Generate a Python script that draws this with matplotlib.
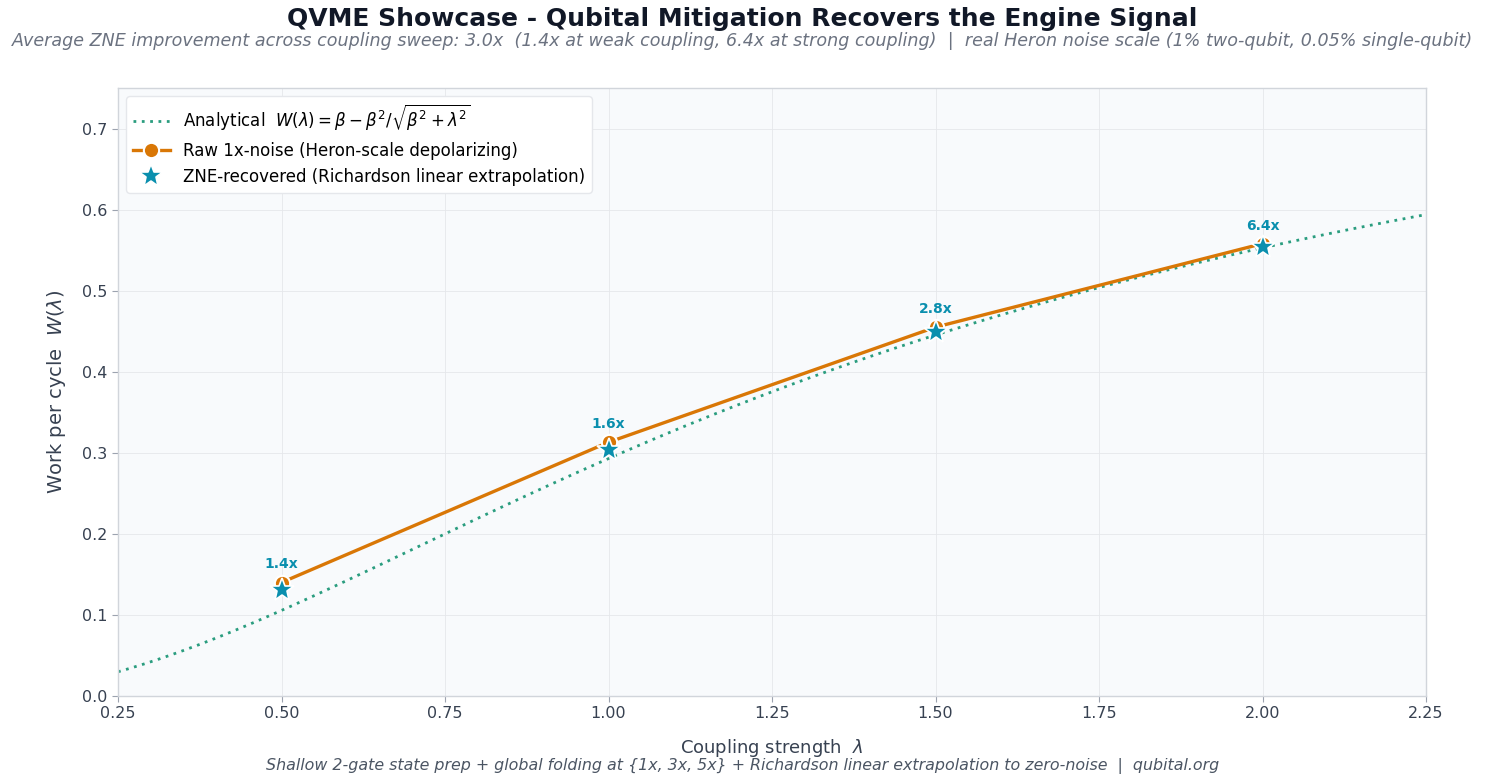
import numpy as np
import matplotlib
matplotlib.use("Agg")
import matplotlib.pyplot as plt

# ---- data ----
BETA = 1.0
lam_points = [0.5, 1.0, 1.5, 2.0]
raw_work = [0.140, 0.313, 0.455, 0.558]
zne_work = [0.131, 0.304, 0.449, 0.554]
improvement_labels = ["1.4x", "1.6x", "2.8x", "6.4x"]
x_ticks = [0.25, 0.50, 0.75, 1.00, 1.25, 1.50, 1.75, 2.00, 2.25]
y_ticks = [0.0, 0.1, 0.2, 0.3, 0.4, 0.5, 0.6, 0.7]

lam_curve = np.linspace(0.25, 2.25, 400)
w_curve = BETA - BETA**2 / np.sqrt(BETA**2 + lam_curve**2)

C_ANA = "#2a9d7f"
C_RAW = "#d97706"
C_ZNE = "#0a8fae"

fig = plt.figure(figsize=(14.85, 7.84), dpi=100)
ax = fig.add_axes([118/1485, 1 - 696/784, (1426-118)/1485, (696-88)/784])
ax.set_facecolor("#f8fafc")

ax.plot(lam_curve, w_curve, linestyle=(0, (1, 2)), color=C_ANA, lw=2.0,
        label=r"Analytical  $W(\lambda) = \beta - \beta^2/\sqrt{\beta^2 + \lambda^2}$", zorder=2)
ax.plot(lam_points, raw_work, "-o", color=C_RAW, lw=2.4, markersize=11,
        markeredgecolor="white", markeredgewidth=1.5,
        label="Raw 1x-noise (Heron-scale depolarizing)", zorder=3)
ax.plot(lam_points, zne_work, linestyle="none", marker="*", color=C_ZNE, markersize=18,
        markeredgecolor="white", markeredgewidth=1.2,
        label="ZNE-recovered (Richardson linear extrapolation)", zorder=4)

for x, y, t in zip(lam_points, raw_work, improvement_labels):
    ax.annotate(t, (x, y), xytext=(0, 8), textcoords="offset points",
                ha="center", va="bottom", fontsize=10, fontweight="bold", color=C_ZNE)

ax.set_xlim(0.25, 2.25)
ax.set_ylim(0.0, 0.75)
ax.set_xticks(x_ticks)
ax.set_xticklabels([f"{v:.2f}" for v in x_ticks])
ax.set_yticks(y_ticks)
ax.set_yticklabels([f"{v:.1f}" for v in y_ticks])
ax.tick_params(colors="#374151", labelsize=11.5, length=4, color="#9ca3af")
ax.grid(True, color="#e5e7eb", lw=0.6)
ax.set_axisbelow(True)
for s in ax.spines.values():
    s.set_color("#d1d5db")
    s.set_linewidth(1.0)

ax.set_xlabel(r"Coupling strength  $\lambda$", fontsize=13, color="#374151", labelpad=11)
ax.set_ylabel(r"Work per cycle  $W(\lambda)$", fontsize=14, color="#374151", labelpad=10)

leg = ax.legend(loc="upper left", fontsize=12, frameon=True, framealpha=1.0,
                edgecolor="#e5e7eb", borderpad=0.4, labelspacing=0.5, handlelength=2.2)

fig.text(0.5, 1 - 19/784, "QVME Showcase - Qubital Mitigation Recovers the Engine Signal",
         ha="center", va="center", fontsize=18, fontweight="bold", color="#111827")
fig.text(0.5, 1 - 41/784,
         "Average ZNE improvement across coupling sweep: 3.0x  (1.4x at weak coupling, 6.4x at strong coupling)  |  real Heron noise scale (1% two-qubit, 0.05% single-qubit)",
         ha="center", va="center", fontsize=12.6, style="italic", color="#6b7280")
fig.text(0.5, 1 - 766/784,
         "Shallow 2-gate state prep + global folding at {1x, 3x, 5x} + Richardson linear extrapolation to zero-noise  |  qubital.org",
         ha="center", va="center", fontsize=11.4, style="italic", color="#4b5563")

fig.savefig("out.png", dpi=100, facecolor="white")
